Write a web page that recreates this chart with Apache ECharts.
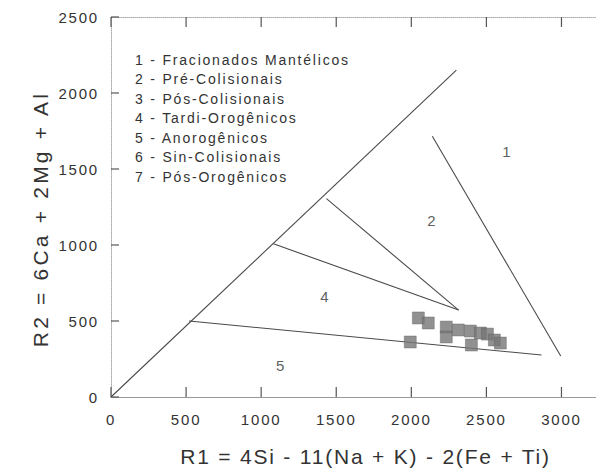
<!DOCTYPE html>
<html>
<head>
<meta charset="utf-8">
<script src="https://cdn.jsdelivr.net/npm/echarts@6/dist/echarts.min.js"></script>
<style>
  html, body { margin: 0; padding: 0; background: #fff; }
  #chart { width: 596px; height: 473px; }
  /* typewriter-like tracking used throughout the figure */
  #chart text { letter-spacing: 1.8px; }
</style>
</head>
<body>
<div id="chart"></div>
<script>
// Axis ticks
const xTicks = [0, 500, 1000, 1500, 2000, 2500, 3000];
const yTicks = [0, 500, 1000, 1500, 2000, 2500];

// Axis titles
const xName = 'R1 = 4Si - 11(Na + K) - 2(Fe + Ti)';
const yName = 'R2 = 6Ca + 2Mg + Al';

// Field boundaries of the R1-R2 diagram (R1, R2)
const lineDiagonal = [[0, 0], [2300, 2150]];
const lineField1 = [[2140, 1715], [2995, 270]];
const lineField2 = [[1435, 1305], [2315, 572]];
const lineField4 = [[1082, 1008], [2315, 572]];
const lineField5 = [[520, 500], [2867, 276]];

// Samples (R1, R2)
const samplesR1 = [2047, 2113, 2233, 2233, 2313, 2393, 2460, 2400, 2507, 2553, 2593, 1993];
const samplesR2 = [520, 487, 460, 395, 441, 434, 421, 342, 414, 375, 355, 362];

// Field numbers written inside the diagram
const fieldNames = ['1', '2', '4', '5'];
const fieldR1 = [2640, 2140, 1427, 1133];
const fieldR2 = [1612, 1164, 658, 210];

// Field key
const keyLines = [
  '1 - Fracionados Mantélicos',
  '2 - Pré-Colisionais',
  '3 - Pós-Colisionais',
  '4 - Tardi-Orogênicos',
  '5 - Anorogênicos',
  '6 - Sin-Colisionais',
  '7 - Pós-Orogênicos'
];

const FONT = '"Liberation Sans", Arial, sans-serif';
const TXT = '#333';
const LINE = '#4a4a4a';
const TICK = '#555';

const X_MAX = 3230;
const Y_MAX = 2500;

const chart = echarts.init(document.getElementById('chart'), null, { renderer: 'svg' });

function boundary(points) {
  return {
    type: 'line', data: points, symbol: 'none', silent: true,
    lineStyle: { color: LINE, width: 1.1 }, z: 2
  };
}

// inward tick marks on the bottom and top frame edges
function renderXTick(params, api) {
  const v = api.value(0);
  const b = api.coord([v, 0]);
  const t = api.coord([v, Y_MAX]);
  const style = { stroke: TICK, lineWidth: 1.2 };
  return {
    type: 'group',
    children: [
      { type: 'line', shape: { x1: b[0], y1: b[1], x2: b[0], y2: b[1] - 10 }, style },
      { type: 'line', shape: { x1: t[0], y1: t[1], x2: t[0], y2: t[1] + 10 }, style }
    ]
  };
}

// inward tick marks on the left frame edge
function renderYTick(params, api) {
  const p = api.coord([0, api.value(1)]);
  return {
    type: 'line',
    shape: { x1: p[0], y1: p[1], x2: p[0] + 8, y2: p[1] },
    style: { stroke: TICK, lineWidth: 1.2 }
  };
}

const option = {
  animation: false,
  backgroundColor: '#fff',
  title: {
    text: keyLines.join('\n'),
    left: 130, top: 45,
    textStyle: {
      fontFamily: FONT, fontSize: 14, fontWeight: 'normal', color: TXT,
      lineHeight: 19.5
    }
  },
  grid: { left: 111, top: 17, width: 485, height: 380, outerBoundsMode: 'none' },
  xAxis: [{
    type: 'value', min: 0, max: X_MAX, interval: 500,
    name: xName,
    nameLocation: 'middle', nameGap: 49,
    nameTextStyle: { fontFamily: FONT, fontSize: 21, color: TXT, padding: [0, 0, 0, 24] },
    axisLine: { show: true, onZero: false, lineStyle: { color: '#999', width: 1 } },
    axisTick: { show: false },
    axisLabel: {
      margin: 15, fontFamily: FONT, fontSize: 15, color: TXT,
      showMaxLabel: false, formatter: v => String(v)
    },
    splitLine: { show: false }
  }, {
    type: 'value', min: 0, max: X_MAX, interval: 500, position: 'top',
    axisLine: { show: true, onZero: false, lineStyle: { color: '#aaa', width: 1, type: 'dotted' } },
    axisTick: { show: false },
    axisLabel: { show: false },
    splitLine: { show: false }
  }],
  yAxis: [{
    type: 'value', min: 0, max: Y_MAX, interval: 500,
    name: yName,
    nameLocation: 'middle', nameGap: 60,
    nameTextStyle: { fontFamily: FONT, fontSize: 21, color: TXT, padding: [0, 24, 0, 0] },
    axisLine: { show: true, onZero: false, lineStyle: { color: '#aaa', width: 1, type: 'dotted' } },
    axisTick: { show: false },
    axisLabel: { margin: 12, fontFamily: FONT, fontSize: 15, color: TXT, formatter: v => String(v) },
    splitLine: { show: false }
  }],
  series: [
    boundary(lineDiagonal),
    boundary(lineField1),
    boundary(lineField2),
    boundary(lineField4),
    boundary(lineField5),
    {
      type: 'custom', silent: true, clip: false,
      renderItem: renderXTick,
      data: xTicks.map(v => [v, 0]),
      z: 1
    },
    {
      type: 'custom', silent: true, clip: false,
      renderItem: renderYTick,
      data: yTicks.map(v => [0, v]),
      z: 1
    },
    {
      type: 'scatter',
      symbol: 'rect', symbolSize: 12,
      data: samplesR1.map((r1, i) => [r1, samplesR2[i]]),
      itemStyle: { color: '#767676', borderColor: '#5e5e5e', borderWidth: 0.5 },
      z: 3
    },
    {
      type: 'scatter',
      symbolSize: 0,
      silent: true,
      data: fieldNames.map((n, i) => [fieldR1[i], fieldR2[i], n]),
      label: {
        show: true, position: 'inside',
        formatter: p => p.value[2],
        fontFamily: FONT, fontSize: 15, color: TXT
      },
      z: 4
    }
  ]
};

chart.setOption(option);

// the vertical axis title is set with wider tracking
document.querySelectorAll('#chart text').forEach(t => {
  if (t.textContent === yName) t.style.letterSpacing = '3.2px';
});
</script>
</body>
</html>
